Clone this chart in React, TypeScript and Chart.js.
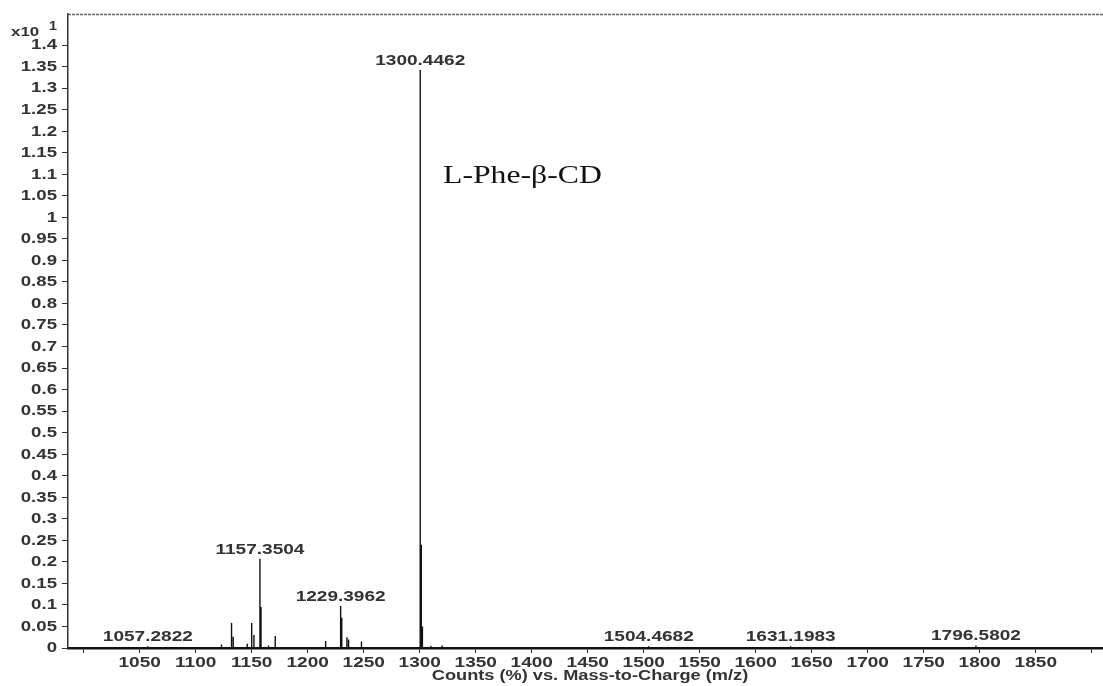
import React, { useEffect, useRef } from "react";
import { Chart, registerables } from "chart.js";

Chart.register(...registerables);

// m/z of each stick peak and its intensity (x10^1 counts %)
const peakMz = [
  1057.2822, 1123, 1132, 1133.5, 1146, 1150, 1152, 1157.3504, 1158.3, 1165, 1171,
  1216, 1229.3962, 1230.4, 1235, 1236.5, 1248, 1300.4462, 1301.4, 1302.4, 1310,
  1320, 1504.4682, 1631.1983, 1796.5802,
];
const peakIntensity = [
  0.004, 0.008, 0.058, 0.026, 0.01, 0.058, 0.03, 0.207, 0.095, 0.006, 0.028,
  0.016, 0.0975, 0.07, 0.025, 0.02, 0.015, 1.342, 0.24, 0.05, 0.005,
  0.006, 0.004, 0.004, 0.006,
];

// labelled peaks
const labelMz = [1057.2822, 1157.3504, 1229.3962, 1300.4462, 1504.4682, 1631.1983, 1796.5802];
const labelText = ["1057.2822", "1157.3504", "1229.3962", "1300.4462", "1504.4682", "1631.1983", "1796.5802"];

const xTickValues = [
  1000, 1050, 1100, 1150, 1200, 1250, 1300, 1350, 1400, 1450, 1500, 1550, 1600,
  1650, 1700, 1750, 1800, 1850, 1900,
];
const xTickLabels = [
  "", "1050", "1100", "1150", "1200", "1250", "1300", "1350", "1400", "1450", "1500", "1550", "1600",
  "1650", "1700", "1750", "1800", "1850", "",
];
const yTickValues = [
  0, 0.05, 0.1, 0.15, 0.2, 0.25, 0.3, 0.35, 0.4, 0.45, 0.5, 0.55, 0.6, 0.65, 0.7,
  0.75, 0.8, 0.85, 0.9, 0.95, 1, 1.05, 1.1, 1.15, 1.2, 1.25, 1.3, 1.35, 1.4,
];
const yTickLabels = [
  "0", "0.05", "0.1", "0.15", "0.2", "0.25", "0.3", "0.35", "0.4", "0.45", "0.5", "0.55", "0.6", "0.65", "0.7",
  "0.75", "0.8", "0.85", "0.9", "0.95", "1", "1.05", "1.1", "1.15", "1.2", "1.25", "1.3", "1.35", "1.4",
];

const xTitle = "Counts (%) vs. Mass-to-Charge (m/z)";
const compoundName = "L-Phe-β-CD";

const X_MIN = 986;
const X_MAX = 1910;
const Y_MIN = 0;
const Y_MAX = 1.472;

const SANS = "'Liberation Sans', Arial, sans-serif";
const TICK_FONT = `bold 14px ${SANS}`;
const STRETCH = 1.36;
const INK = "#333";

function stretchText(
  ctx: CanvasRenderingContext2D,
  text: string,
  x: number,
  y: number,
  align: CanvasTextAlign,
  sx: number
) {
  ctx.save();
  ctx.translate(x, y);
  ctx.scale(sx, 1);
  ctx.textAlign = align;
  ctx.fillText(text, 0, 0);
  ctx.restore();
}

export default function App() {
  const ref = useRef<HTMLCanvasElement | null>(null);

  useEffect(() => {
    if (!ref.current) return;
    const pts: { x: number; y: number }[] = [];
    peakMz.forEach((m, i) => {
      pts.push({ x: m, y: 0 });
      pts.push({ x: m, y: peakIntensity[i] });
      pts.push({ x: m, y: 0 });
    });

    const overlay = {
      id: "overlay",
      afterDraw(chart: any) {
        const ctx = chart.ctx as CanvasRenderingContext2D;
        const xs = chart.scales.x;
        const ys = chart.scales.y;
        const area = chart.chartArea;
        ctx.save();
        // top frame line
        ctx.strokeStyle = "#666";
        ctx.lineWidth = 1.5;
        ctx.setLineDash([3, 1]);
        ctx.beginPath();
        ctx.moveTo(area.left, area.top + 0.5);
        ctx.lineTo(area.right, area.top + 0.5);
        ctx.stroke();
        ctx.setLineDash([]);

        ctx.fillStyle = INK;
        ctx.font = TICK_FONT;
        ctx.textBaseline = "middle";

        // y tick labels
        yTickValues.forEach((v, i) => {
          stretchText(ctx, yTickLabels[i], 57, ys.getPixelForValue(v) + 0.5, "right", 1.33);
        });
        // x tick labels
        xTickValues.forEach((v, i) => {
          if (!xTickLabels[i]) return;
          stretchText(ctx, xTickLabels[i], xs.getPixelForValue(v), 663, "center", STRETCH);
        });

        // peak labels
        ctx.textBaseline = "bottom";
        labelMz.forEach((m, i) => {
          const idx = peakMz.indexOf(m);
          const h = idx >= 0 ? peakIntensity[idx] : 0;
          const px = xs.getPixelForValue(m);
          const py = ys.getPixelForValue(h);
          stretchText(ctx, labelText[i], px, py - 2, "center", STRETCH);
        });

        // multiplier label
        ctx.textBaseline = "middle";
        ctx.font = `bold 13px ${SANS}`;
        stretchText(ctx, "x10", 11, 32, "left", 1.3);
        ctx.font = `bold 12px ${SANS}`;
        stretchText(ctx, "1", 49, 27, "left", 1.2);

        // axis title
        ctx.font = TICK_FONT;
        stretchText(ctx, xTitle, 590, 676, "center", 1.3);

        // compound name
        ctx.font = "26px 'Liberation Serif', 'Times New Roman', serif";
        ctx.fillStyle = "#111";
        stretchText(ctx, compoundName, 443, 176, "left", 1.22);
        ctx.restore();
      },
    };

    const chart = new Chart(ref.current, {
      type: "scatter",
      data: {
        datasets: [
          {
            data: pts,
            showLine: true,
            borderColor: "#111",
            borderWidth: 1.4,
            pointRadius: 0,
            pointHoverRadius: 0,
          },
        ],
      },
      options: {
        responsive: false,
        animation: false,
        devicePixelRatio: 1,
        layout: { padding: { top: 14, left: 0, right: 0, bottom: 0 } },
        plugins: { legend: { display: false }, tooltip: { enabled: false } },
        scales: {
          x: {
            type: "linear",
            min: X_MIN,
            max: X_MAX,
            afterBuildTicks: (s: any) => {
              s.ticks = xTickValues.map((v) => ({ value: v }));
            },
            afterFit: (s: any) => {
              s.height = 38;
            },
            ticks: { display: false, autoSkip: false },
            grid: { drawOnChartArea: false, tickLength: 5, color: "#222" },
            border: { color: "#111", width: 2.5 },
          },
          y: {
            type: "linear",
            min: Y_MIN,
            max: Y_MAX,
            afterBuildTicks: (s: any) => {
              s.ticks = yTickValues.map((v) => ({ value: v }));
            },
            afterFit: (s: any) => {
              s.width = 68;
            },
            ticks: { display: false, autoSkip: false },
            grid: { drawOnChartArea: false, tickLength: 6, color: "#333" },
            border: { color: "#333", width: 1.5 },
          },
        },
      },
      plugins: [overlay],
    });
    return () => chart.destroy();
  }, []);

  return (
    <div style={{ position: "absolute", left: 0, top: 0, width: 1103, height: 686, background: "#fff" }}>
      <canvas ref={ref} width={1103} height={686} />
    </div>
  );
}
